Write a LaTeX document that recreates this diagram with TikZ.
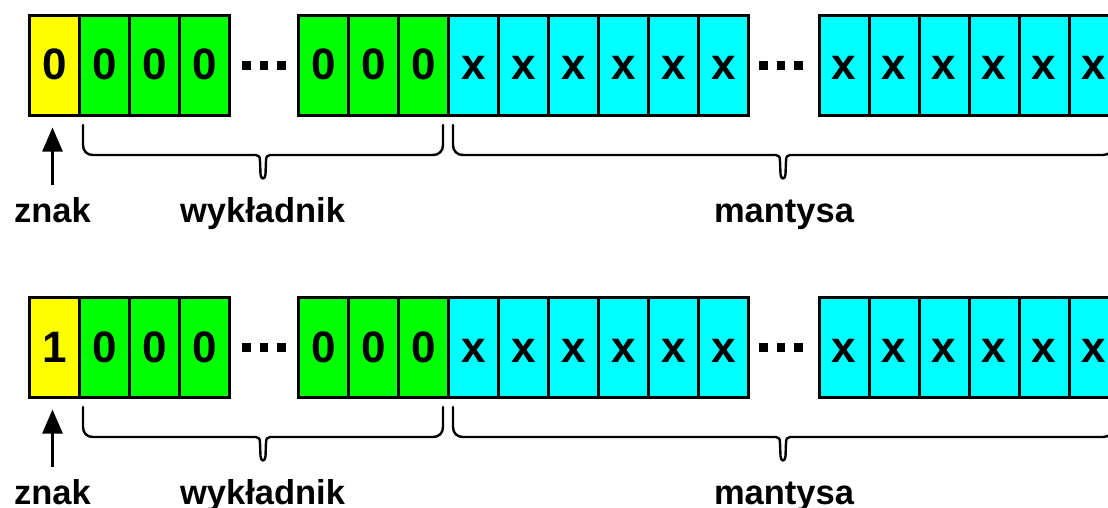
\documentclass[tikz,border=0pt]{standalone}
\usepackage{fontspec}
\setmainfont{Liberation Sans}
\usetikzlibrary{arrows.meta}
\definecolor{signyellow}{RGB}{255,255,0}
\definecolor{expgreen}{RGB}{0,255,0}
\definecolor{mancyan}{RGB}{0,255,255}
\tikzset{
  cell/.style={draw=black, line width=3pt, minimum width=50pt, minimum height=100pt,
    inner sep=0pt, text height=29pt, text depth=0pt,
    font=\fontsize{44pt}{48pt}\selectfont\bfseries},
  lab/.style={anchor=base, inner sep=0pt, font=\fontsize{34.5pt}{38pt}\selectfont\bfseries},
  bracestyle/.style={draw=black, line width=2.4pt, line cap=round, line join=round},
  arrowstyle/.style={draw=black, line width=2.6pt, -{Triangle[length=24pt,width=20pt]}},
  dotsq/.style={fill=black}
}
\newcommand{\mybrace}[4]{%
  \draw[bracestyle] (#1,#4) -- (#1,#4+20)
    .. controls (#1,#4+26) and (#1+4,#4+30) .. (#1+10,#4+30)
    -- (#2-7,#4+30)
    .. controls (#2-4,#4+30) and (#2-3,#4+32) .. (#2-3,#4+36)
    -- (#2-2.5,#4+49)
    .. controls (#2-2.5,#4+55) and (#2+2.5,#4+55) .. (#2+2.5,#4+49)
    -- (#2+3,#4+36)
    .. controls (#2+3,#4+32) and (#2+4,#4+30) .. (#2+7,#4+30)
    -- (#3-10,#4+30)
    .. controls (#3-4,#4+30) and (#3,#4+26) .. (#3,#4+20)
    -- (#3,#4);}
\newcommand{\mydots}[2]{%
  \foreach \dx in {-17.5,0,17.5} {\fill[dotsq] (#1+\dx-4.25,#2-4.5) rectangle ++(8.5,9);}}
\newcommand{\myrow}[3]{%
  \node[cell, fill=signyellow] (s#1) at (54.5,#2) {#3};
  \foreach \i/\x in {1/104.5,2/154.5,3/204.5}
    {\node[cell, fill=expgreen] (ea#1\i) at (\x,#2) {0};}
  \foreach \i/\x in {1/323.5,2/373.5,3/423.5}
    {\node[cell, fill=expgreen] (eb#1\i) at (\x,#2) {0};}
  \foreach \i/\x in {1/473.5,2/523.5,3/573.5,4/623.5,5/673.5,6/723.5}
    {\node[cell, fill=mancyan] (ma#1\i) at (\x,#2) {x};}
  \foreach \i/\x in {1/844,2/894,3/944,4/994,5/1044,6/1094}
    {\node[cell, fill=mancyan] (mb#1\i) at (\x,#2) {x};}
  \mydots{264}{#2}
  \mydots{781}{#2}
  \node[lab] (znak#1) at (52.5,#2+156.5) {znak};
  \node[lab] (wyk#1) at (262.5,#2+156.5) {wykładnik};
  \node[lab] (man#1) at (784,#2+156.5) {mantysa};
  \draw[arrowstyle, shorten <=12pt, shorten >=10.5pt] (znak#1.north) -- (znak#1.north |- s#1.south);
  \mybrace{83}{263}{443}{#2+59.5}
  \mybrace{453}{783}{1113}{#2+59.5}
}
\begin{document}
\begin{tikzpicture}[x=1pt,y=-1pt]
\useasboundingbox (0,0) rectangle (1108,508);
\clip (0,0) rectangle (1108,508);
\myrow{1}{65.5}{0}
\myrow{2}{347.5}{1}
\end{tikzpicture}
\end{document}
